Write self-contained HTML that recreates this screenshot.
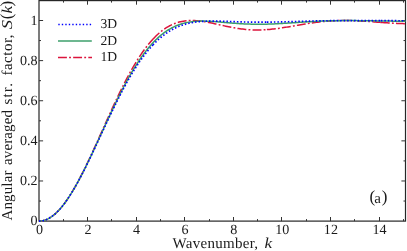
<!DOCTYPE html>
<html><head><meta charset="utf-8"><title>S(k)</title>
<style>
html,body{margin:0;padding:0;background:#fff;}
body{width:407px;height:251px;overflow:hidden;font-family:"Liberation Serif",serif;}
svg{display:block;}
svg{will-change:transform;}
svg text{font-family:"Liberation Serif",serif;fill:#1a1a1a;text-rendering:geometricPrecision;}
</style></head><body>
<svg width="407" height="251" viewBox="0 0 407 251">
<rect x="0" y="0" width="407" height="251" fill="#ffffff"/>
<rect x="39.0" y="0.6" width="366.50" height="220.5" stroke="#262626" stroke-width="1.2" fill="none"/>
<g stroke="#333" stroke-width="1" fill="none">
<line x1="63.50" y1="221.1" x2="63.50" y2="219.1"/>
<line x1="63.50" y1="0.6" x2="63.50" y2="2.6"/>
<line x1="87.50" y1="221.1" x2="87.50" y2="217.0"/>
<line x1="87.50" y1="0.6" x2="87.50" y2="4.699999999999999"/>
<line x1="111.50" y1="221.1" x2="111.50" y2="219.1"/>
<line x1="111.50" y1="0.6" x2="111.50" y2="2.6"/>
<line x1="136.50" y1="221.1" x2="136.50" y2="217.0"/>
<line x1="136.50" y1="0.6" x2="136.50" y2="4.699999999999999"/>
<line x1="160.50" y1="221.1" x2="160.50" y2="219.1"/>
<line x1="160.50" y1="0.6" x2="160.50" y2="2.6"/>
<line x1="184.50" y1="221.1" x2="184.50" y2="217.0"/>
<line x1="184.50" y1="0.6" x2="184.50" y2="4.699999999999999"/>
<line x1="209.50" y1="221.1" x2="209.50" y2="219.1"/>
<line x1="209.50" y1="0.6" x2="209.50" y2="2.6"/>
<line x1="233.50" y1="221.1" x2="233.50" y2="217.0"/>
<line x1="233.50" y1="0.6" x2="233.50" y2="4.699999999999999"/>
<line x1="257.50" y1="221.1" x2="257.50" y2="219.1"/>
<line x1="257.50" y1="0.6" x2="257.50" y2="2.6"/>
<line x1="281.50" y1="221.1" x2="281.50" y2="217.0"/>
<line x1="281.50" y1="0.6" x2="281.50" y2="4.699999999999999"/>
<line x1="306.50" y1="221.1" x2="306.50" y2="219.1"/>
<line x1="306.50" y1="0.6" x2="306.50" y2="2.6"/>
<line x1="330.50" y1="221.1" x2="330.50" y2="217.0"/>
<line x1="330.50" y1="0.6" x2="330.50" y2="4.699999999999999"/>
<line x1="354.50" y1="221.1" x2="354.50" y2="219.1"/>
<line x1="354.50" y1="0.6" x2="354.50" y2="2.6"/>
<line x1="379.50" y1="221.1" x2="379.50" y2="217.0"/>
<line x1="379.50" y1="0.6" x2="379.50" y2="4.699999999999999"/>
<line x1="403.50" y1="221.1" x2="403.50" y2="219.1"/>
<line x1="403.50" y1="0.6" x2="403.50" y2="2.6"/>
<line x1="39.0" y1="201.04" x2="41.0" y2="201.04"/>
<line x1="405.5" y1="201.04" x2="403.5" y2="201.04"/>
<line x1="39.0" y1="180.98" x2="43.1" y2="180.98"/>
<line x1="405.5" y1="180.98" x2="401.4" y2="180.98"/>
<line x1="39.0" y1="160.92" x2="41.0" y2="160.92"/>
<line x1="405.5" y1="160.92" x2="403.5" y2="160.92"/>
<line x1="39.0" y1="140.86" x2="43.1" y2="140.86"/>
<line x1="405.5" y1="140.86" x2="401.4" y2="140.86"/>
<line x1="39.0" y1="120.80" x2="41.0" y2="120.80"/>
<line x1="405.5" y1="120.80" x2="403.5" y2="120.80"/>
<line x1="39.0" y1="100.74" x2="43.1" y2="100.74"/>
<line x1="405.5" y1="100.74" x2="401.4" y2="100.74"/>
<line x1="39.0" y1="80.68" x2="41.0" y2="80.68"/>
<line x1="405.5" y1="80.68" x2="403.5" y2="80.68"/>
<line x1="39.0" y1="60.62" x2="43.1" y2="60.62"/>
<line x1="405.5" y1="60.62" x2="401.4" y2="60.62"/>
<line x1="39.0" y1="40.56" x2="41.0" y2="40.56"/>
<line x1="405.5" y1="40.56" x2="403.5" y2="40.56"/>
<line x1="39.0" y1="20.50" x2="43.1" y2="20.50"/>
<line x1="405.5" y1="20.50" x2="401.4" y2="20.50"/>
</g>
<g fill="none" stroke-linejoin="round">
<path d="M39.00,221.10 L40.42,221.04 L41.83,220.87 L43.25,220.59 L44.66,220.19 L46.08,219.69 L47.49,219.07 L48.91,218.34 L50.32,217.50 L51.74,216.55 L53.15,215.49 L54.57,214.33 L55.98,213.06 L57.40,211.69 L58.81,210.22 L60.23,208.66 L61.64,206.99 L63.06,205.23 L64.47,203.38 L65.89,201.44 L67.30,199.41 L68.72,197.30 L70.13,195.10 L71.55,192.83 L72.96,190.48 L74.38,188.06 L75.79,185.56 L77.21,183.01 L78.62,180.38 L80.04,177.70 L81.45,174.96 L82.87,172.17 L84.28,169.33 L85.70,166.45 L87.11,163.52 L88.53,160.55 L89.94,157.55 L91.36,154.51 L92.77,151.45 L94.19,148.36 L95.60,145.26 L97.02,142.13 L98.43,138.99 L99.85,135.85 L101.26,132.69 L102.68,129.54 L104.09,126.38 L105.51,123.23 L106.92,120.09 L108.34,116.96 L109.75,113.84 L111.17,110.74 L112.58,107.66 L114.00,104.61 L115.41,101.58 L116.83,98.58 L118.24,95.62 L119.66,92.69 L121.07,89.80 L122.49,86.95 L123.90,84.14 L125.32,81.38 L126.73,78.67 L128.15,76.00 L129.56,73.39 L130.98,70.84 L132.39,68.34 L133.81,65.89 L135.22,63.51 L136.64,61.19 L138.05,58.92 L139.47,56.73 L140.88,54.59 L142.30,52.52 L143.71,50.52 L145.13,48.59 L146.54,46.72 L147.96,44.92 L149.37,43.19 L150.79,41.52 L152.20,39.93 L152.95,39.12" stroke="#dc143c" stroke-width="1.5" stroke-dasharray="8.9 2.2 1.85 2.2"/>
<path d="M152.95,39.12 L153.62,38.40 L155.03,36.94 L156.45,35.56 L157.86,34.23 L159.28,32.98 L160.69,31.80 L162.11,30.68 L163.53,29.62 L164.94,28.63 L166.36,27.71 L167.77,26.85 L169.19,26.04 L170.60,25.31 L172.02,24.63 L173.43,24.00 L174.85,23.44 L176.26,22.93 L177.68,22.47 L179.09,22.07 L180.51,21.72 L181.92,21.41 L183.34,21.15 L184.75,20.94 L186.17,20.77 L187.58,20.65 L189.00,20.56 L190.41,20.51 L191.83,20.50 L193.24,20.52 L194.66,20.58 L196.07,20.66 L197.49,20.77 L198.90,20.91 L200.32,21.08 L201.73,21.26 L203.15,21.47 L204.56,21.70 L205.98,21.94 L207.39,22.20 L208.81,22.47 L210.22,22.75 L211.64,23.05 L213.05,23.35 L214.47,23.66 L215.88,23.97 L217.30,24.29 L218.71,24.61 L220.13,24.92 L221.54,25.24 L222.96,25.56 L224.37,25.87 L225.79,26.18 L227.20,26.48 L228.62,26.77 L230.03,27.06 L231.45,27.33 L232.86,27.60 L234.28,27.85 L235.69,28.09 L237.11,28.33 L238.52,28.54 L239.94,28.75 L241.35,28.93 L242.77,29.11 L244.18,29.27 L245.60,29.41 L247.01,29.54 L248.43,29.65 L249.84,29.74 L251.26,29.82 L252.67,29.88 L254.09,29.92 L255.50,29.95 L256.92,29.97 L258.33,29.96 L259.75,29.94 L261.16,29.91 L262.58,29.86 L263.99,29.79 L265.41,29.71 L266.82,29.62 L266.90,29.61" stroke="#dc143c" stroke-width="1.5" stroke-dasharray="8.9 2.2 1.85 2.2"/>
<path d="M266.90,29.61 L268.24,29.51 L269.65,29.39 L271.07,29.25 L272.48,29.11 L273.90,28.95 L275.31,28.78 L276.73,28.60 L278.14,28.42 L279.56,28.22 L280.97,28.02 L282.39,27.80 L283.81,27.59 L285.22,27.36 L286.64,27.13 L288.05,26.90 L289.47,26.66 L290.88,26.42 L292.30,26.17 L293.71,25.93 L295.13,25.68 L296.54,25.43 L297.96,25.19 L299.37,24.94 L300.79,24.70 L302.20,24.46 L303.62,24.22 L305.03,23.99 L306.45,23.76 L307.86,23.54 L309.28,23.32 L310.69,23.10 L312.11,22.89 L313.52,22.69 L314.94,22.50 L316.35,22.31 L317.77,22.14 L319.18,21.97 L320.60,21.81 L322.01,21.65 L323.43,21.51 L324.84,21.38 L326.26,21.25 L327.67,21.14 L329.09,21.03 L330.50,20.93 L331.92,20.85 L333.33,20.77 L334.75,20.70 L336.16,20.65 L337.58,20.60 L338.99,20.56 L340.41,20.53 L341.82,20.51 L343.24,20.50 L344.65,20.50 L346.07,20.51 L347.48,20.52 L348.90,20.55 L350.31,20.58 L351.73,20.61 L353.14,20.66 L354.56,20.71 L355.97,20.77 L357.39,20.83 L358.80,20.90 L360.22,20.98 L361.63,21.06 L363.05,21.14 L364.46,21.23 L365.88,21.32 L367.29,21.42 L368.71,21.51 L370.12,21.61 L371.54,21.72 L372.95,21.82 L374.37,21.92 L375.78,22.03 L377.20,22.13 L378.61,22.23 L380.03,22.34 L380.85,22.40" stroke="#dc143c" stroke-width="1.5" stroke-dasharray="8.9 2.2 1.85 2.2"/>
<path d="M380.85,22.40 L381.44,22.44 L382.86,22.54 L384.27,22.64 L385.69,22.74 L387.10,22.83 L388.52,22.92 L389.93,23.01 L391.35,23.09 L392.76,23.17 L394.18,23.25 L395.59,23.32 L397.01,23.39 L398.42,23.46 L399.84,23.51 L401.25,23.57 L402.67,23.62 L404.08,23.66 L405.50,23.70" stroke="#dc143c" stroke-width="1.5" stroke-dasharray="8.9 2.2 1.85 2.2"/>
<path d="M39.00,221.10 L40.42,221.04 L41.83,220.87 L43.25,220.59 L44.66,220.19 L46.08,219.69 L47.49,219.07 L48.91,218.34 L50.32,217.50 L51.74,216.55 L53.15,215.49 L54.57,214.33 L55.98,213.07 L57.40,211.70 L58.81,210.24 L60.23,208.67 L61.64,207.02 L63.06,205.26 L64.47,203.42 L65.89,201.49 L67.30,199.47 L68.72,197.37 L70.13,195.19 L71.55,192.93 L72.96,190.60 L74.38,188.19 L75.79,185.72 L77.21,183.19 L78.62,180.59 L80.04,177.94 L81.45,175.23 L82.87,172.48 L84.28,169.67 L85.70,166.83 L87.11,163.94 L88.53,161.02 L89.94,158.06 L91.36,155.08 L92.77,152.07 L94.19,149.04 L95.60,145.99 L97.02,142.93 L98.43,139.86 L99.85,136.78 L101.26,133.69 L102.68,130.61 L104.09,127.53 L105.51,124.46 L106.92,121.40 L108.34,118.35 L109.75,115.31 L111.17,112.30 L112.58,109.31 L114.00,106.34 L115.41,103.41 L116.83,100.50 L118.24,97.63 L119.66,94.79 L121.07,91.99 L122.49,89.23 L123.90,86.52 L125.32,83.85 L126.73,81.22 L128.15,78.65 L129.56,76.13 L130.98,73.65 L132.39,71.24 L133.81,68.87 L135.22,66.57 L136.64,64.32 L138.05,62.13 L139.47,60.00 L140.88,57.92 L142.30,55.91 L143.71,53.97 L145.13,52.08 L146.54,50.25 L147.96,48.49 L149.37,46.79 L150.79,45.15 L152.20,43.58 L152.95,42.77 L153.62,42.06 L155.03,40.61 L156.45,39.22 L157.86,37.89 L159.28,36.63 L160.69,35.42 L162.11,34.27 L163.53,33.17 L164.94,32.14 L166.36,31.16 L167.77,30.24 L169.19,29.37 L170.60,28.55 L172.02,27.78 L173.43,27.07 L174.85,26.40 L176.26,25.78 L177.68,25.21 L179.09,24.68 L180.51,24.20 L181.92,23.76 L183.34,23.36 L184.75,22.99 L186.17,22.67 L187.58,22.38 L189.00,22.12 L190.41,21.89 L191.83,21.70 L193.24,21.54 L194.66,21.40 L196.07,21.29 L197.49,21.21 L198.90,21.14 L200.32,21.10 L201.73,21.08 L203.15,21.08 L204.56,21.10 L205.98,21.13 L207.39,21.17 L208.81,21.23 L210.22,21.30 L211.64,21.38 L213.05,21.47 L214.47,21.57 L215.88,21.68 L217.30,21.79 L218.71,21.91 L220.13,22.03 L221.54,22.15 L222.96,22.27 L224.37,22.40 L225.79,22.52 L227.20,22.65 L228.62,22.77 L230.03,22.90 L231.45,23.01 L232.86,23.13 L234.28,23.24 L235.69,23.35 L237.11,23.45 L238.52,23.55 L239.94,23.64 L241.35,23.73 L242.77,23.81 L244.18,23.89 L245.60,23.95 L247.01,24.01 L248.43,24.07 L249.84,24.11 L251.26,24.15 L252.67,24.19 L254.09,24.21 L255.50,24.23 L256.92,24.24 L258.33,24.25 L259.75,24.24 L261.16,24.24 L262.58,24.22 L263.99,24.20 L265.41,24.17 L266.82,24.14 L266.90,24.13 L268.24,24.10 L269.65,24.05 L271.07,24.00 L272.48,23.95 L273.90,23.89 L275.31,23.82 L276.73,23.75 L278.14,23.68 L279.56,23.60 L280.97,23.53 L282.39,23.44 L283.81,23.36 L285.22,23.27 L286.64,23.18 L288.05,23.09 L289.47,23.00 L290.88,22.91 L292.30,22.82 L293.71,22.72 L295.13,22.63 L296.54,22.54 L297.96,22.44 L299.37,22.35 L300.79,22.26 L302.20,22.17 L303.62,22.08 L305.03,21.99 L306.45,21.90 L307.86,21.82 L309.28,21.73 L310.69,21.65 L312.11,21.58 L313.52,21.50 L314.94,21.43 L316.35,21.36 L317.77,21.29 L319.18,21.23 L320.60,21.16 L322.01,21.11 L323.43,21.05 L324.84,21.00 L326.26,20.95 L327.67,20.90 L329.09,20.86 L330.50,20.82 L331.92,20.79 L333.33,20.75 L334.75,20.72 L336.16,20.70 L337.58,20.67 L338.99,20.65 L340.41,20.64 L341.82,20.62 L343.24,20.61 L344.65,20.60 L346.07,20.60 L347.48,20.59 L348.90,20.59 L350.31,20.59 L351.73,20.60 L353.14,20.60 L354.56,20.61 L355.97,20.62 L357.39,20.63 L358.80,20.64 L360.22,20.66 L361.63,20.67 L363.05,20.69 L364.46,20.71 L365.88,20.73 L367.29,20.75 L368.71,20.77 L370.12,20.79 L371.54,20.81 L372.95,20.83 L374.37,20.86 L375.78,20.88 L377.20,20.90 L378.61,20.93 L380.03,20.95 L380.85,20.96 L381.44,20.97 L382.86,20.99 L384.27,21.02 L385.69,21.04 L387.10,21.06 L388.52,21.08 L389.93,21.10 L391.35,21.12 L392.76,21.14 L394.18,21.15 L395.59,21.17 L397.01,21.19 L398.42,21.20 L399.84,21.21 L401.25,21.23 L402.67,21.24 L404.08,21.25 L405.50,21.25" stroke="#3c9f6b" stroke-width="1.5"/>
<path d="M39.00,221.10 L40.42,221.04 L41.83,220.87 L43.25,220.59 L44.66,220.19 L46.08,219.69 L47.49,219.07 L48.91,218.34 L50.32,217.50 L51.74,216.55 L53.15,215.50 L54.57,214.34 L55.98,213.08 L57.40,211.71 L58.81,210.25 L60.23,208.69 L61.64,207.03 L63.06,205.28 L64.47,203.44 L65.89,201.52 L67.30,199.50 L68.72,197.41 L70.13,195.24 L71.55,192.99 L72.96,190.67 L74.38,188.28 L75.79,185.82 L77.21,183.30 L78.62,180.72 L80.04,178.08 L81.45,175.39 L82.87,172.66 L84.28,169.88 L85.70,167.05 L87.11,164.19 L88.53,161.29 L89.94,158.37 L91.36,155.41 L92.77,152.44 L94.19,149.44 L95.60,146.43 L97.02,143.40 L98.43,140.37 L99.85,137.33 L101.26,134.29 L102.68,131.25 L104.09,128.21 L105.51,125.18 L106.92,122.17 L108.34,119.17 L109.75,116.18 L111.17,113.22 L112.58,110.28 L114.00,107.36 L115.41,104.48 L116.83,101.62 L118.24,98.80 L119.66,96.02 L121.07,93.27 L122.49,90.57 L123.90,87.90 L125.32,85.29 L126.73,82.71 L128.15,80.19 L129.56,77.72 L130.98,75.29 L132.39,72.92 L133.81,70.61 L135.22,68.35 L136.64,66.14 L138.05,63.99 L139.47,61.90 L140.88,59.86 L142.30,57.89 L143.71,55.97 L145.13,54.11 L146.54,52.31 L147.96,50.57 L149.37,48.89 L150.79,47.27 L152.20,45.71 L152.95,44.91" stroke="#0000ff" stroke-width="1.65" stroke-dasharray="1.5 1.99"/>
<path d="M152.95,44.91 L153.62,44.20 L155.03,42.76 L156.45,41.37 L157.86,40.04 L159.28,38.77 L160.69,37.55 L162.11,36.39 L163.53,35.28 L164.94,34.22 L166.36,33.22 L167.77,32.27 L169.19,31.37 L170.60,30.52 L172.02,29.71 L173.43,28.95 L174.85,28.24 L176.26,27.57 L177.68,26.94 L179.09,26.36 L180.51,25.81 L181.92,25.30 L183.34,24.83 L184.75,24.40 L186.17,24.00 L187.58,23.63 L189.00,23.30 L190.41,22.99 L191.83,22.71 L193.24,22.46 L194.66,22.24 L196.07,22.04 L197.49,21.86 L198.90,21.71 L200.32,21.57 L201.73,21.46 L203.15,21.36 L204.56,21.28 L205.98,21.22 L207.39,21.17 L208.81,21.13 L210.22,21.10 L211.64,21.09 L213.05,21.09 L214.47,21.09 L215.88,21.10 L217.30,21.12 L218.71,21.15 L220.13,21.18 L221.54,21.22 L222.96,21.26 L224.37,21.31 L225.79,21.35 L227.20,21.40 L228.62,21.45 L230.03,21.51 L231.45,21.56 L232.86,21.61 L234.28,21.66 L235.69,21.71 L237.11,21.76 L238.52,21.81 L239.94,21.85 L241.35,21.90 L242.77,21.94 L244.18,21.98 L245.60,22.01 L247.01,22.04 L248.43,22.07 L249.84,22.10 L251.26,22.12 L252.67,22.14 L254.09,22.16 L255.50,22.17 L256.92,22.18 L258.33,22.19 L259.75,22.19 L261.16,22.19 L262.58,22.18 L263.99,22.18 L265.41,22.17 L266.82,22.15 L266.90,22.15" stroke="#0000ff" stroke-width="1.65" stroke-dasharray="1.5 1.99"/>
<path d="M266.90,22.15 L268.24,22.14 L269.65,22.12 L271.07,22.10 L272.48,22.07 L273.90,22.05 L275.31,22.02 L276.73,21.99 L278.14,21.96 L279.56,21.93 L280.97,21.89 L282.39,21.86 L283.81,21.82 L285.22,21.78 L286.64,21.74 L288.05,21.70 L289.47,21.66 L290.88,21.62 L292.30,21.58 L293.71,21.54 L295.13,21.49 L296.54,21.45 L297.96,21.41 L299.37,21.37 L300.79,21.33 L302.20,21.29 L303.62,21.25 L305.03,21.21 L306.45,21.17 L307.86,21.13 L309.28,21.10 L310.69,21.06 L312.11,21.03 L313.52,20.99 L314.94,20.96 L316.35,20.93 L317.77,20.90 L319.18,20.87 L320.60,20.84 L322.01,20.82 L323.43,20.79 L324.84,20.77 L326.26,20.75 L327.67,20.73 L329.09,20.71 L330.50,20.69 L331.92,20.67 L333.33,20.66 L334.75,20.64 L336.16,20.63 L337.58,20.62 L338.99,20.61 L340.41,20.60 L341.82,20.59 L343.24,20.58 L344.65,20.58 L346.07,20.57 L347.48,20.57 L348.90,20.56 L350.31,20.56 L351.73,20.56 L353.14,20.56 L354.56,20.56 L355.97,20.56 L357.39,20.56 L358.80,20.56 L360.22,20.57 L361.63,20.57 L363.05,20.57 L364.46,20.58 L365.88,20.58 L367.29,20.58 L368.71,20.59 L370.12,20.59 L371.54,20.60 L372.95,20.60 L374.37,20.61 L375.78,20.62 L377.20,20.62 L378.61,20.63 L380.03,20.63 L380.85,20.64" stroke="#0000ff" stroke-width="1.65" stroke-dasharray="1.5 1.99"/>
<path d="M380.85,20.64 L381.44,20.64 L382.86,20.64 L384.27,20.65 L385.69,20.66 L387.10,20.66 L388.52,20.67 L389.93,20.67 L391.35,20.68 L392.76,20.68 L394.18,20.68 L395.59,20.69 L397.01,20.69 L398.42,20.70 L399.84,20.70 L401.25,20.70 L402.67,20.71 L404.08,20.71 L405.50,20.71" stroke="#0000ff" stroke-width="1.65" stroke-dasharray="1.5 1.99"/>
</g>
<g>
<text x="39.40" y="233.6" text-anchor="middle" font-size="14.1">0</text>
<text x="87.98" y="233.6" text-anchor="middle" font-size="14.1">2</text>
<text x="136.56" y="233.6" text-anchor="middle" font-size="14.1">4</text>
<text x="185.14" y="233.6" text-anchor="middle" font-size="14.1">6</text>
<text x="233.72" y="233.6" text-anchor="middle" font-size="14.1">8</text>
<text x="282.30" y="233.6" text-anchor="middle" font-size="14.1">10</text>
<text x="330.88" y="233.6" text-anchor="middle" font-size="14.1">12</text>
<text x="379.46" y="233.6" text-anchor="middle" font-size="14.1">14</text>
<text x="37.6" y="225.10" text-anchor="end" font-size="14.1">0</text>
<text x="37.6" y="184.98" text-anchor="end" font-size="14.1">0.2</text>
<text x="37.6" y="144.86" text-anchor="end" font-size="14.1">0.4</text>
<text x="37.6" y="104.74" text-anchor="end" font-size="14.1">0.6</text>
<text x="37.6" y="64.62" text-anchor="end" font-size="14.1">0.8</text>
<text x="37.6" y="24.50" text-anchor="end" font-size="14.1">1</text>
</g>
<!-- legend -->
<g fill="none">
<line x1="58.3" y1="24.5" x2="91.4" y2="24.5" stroke="#0000ff" stroke-width="1.4" stroke-dasharray="1.4 2.09"/>
<line x1="58" y1="40.9" x2="91.8" y2="40.9" stroke="#3c9f6b" stroke-width="1.5"/>
<line x1="58" y1="57.5" x2="92" y2="57.5" stroke="#dc143c" stroke-width="1.5" stroke-dasharray="8.9 2.2 1.85 2.2"/>
</g>
<text x="100.5" y="28.3" font-size="13.6">3D</text>
<text x="100.5" y="44.8" font-size="13.6">2D</text>
<text x="100.5" y="61.3" font-size="13.6">1D</text>
<text x="369.4" y="202.4" font-size="17">(</text>
<text x="374.3" y="202.5" font-size="15.0">a</text>
<text x="381.8" y="202.4" font-size="17">)</text>
<text x="172.5" y="247.7" font-size="15.0" textLength="85.6" lengthAdjust="spacing">Wavenumber,</text>
<text x="264.6" y="247.6" font-size="15.0" font-style="italic" textLength="7.6" lengthAdjust="spacingAndGlyphs">k</text>
<g transform="translate(12.1,0) rotate(-90)" font-size="15.0">
<text x="-220.6" y="0" textLength="50.1" lengthAdjust="spacing">Angular</text>
<text x="-164.9" y="0" textLength="54.9" lengthAdjust="spacing">averaged</text>
<text x="-104.5" y="0" textLength="21.4" lengthAdjust="spacing">str.</text>
<text x="-75.6" y="0" textLength="41.2" lengthAdjust="spacing">factor,</text>
<text x="-29.2" y="0" font-style="italic" textLength="9.3" lengthAdjust="spacingAndGlyphs">S</text>
<text x="-19.2" y="0.3" font-size="17">(</text>
<text x="-13.4" y="0" font-style="italic" textLength="7.6" lengthAdjust="spacingAndGlyphs">k</text>
<text x="-6.6" y="0.3" font-size="17">)</text>
</g>
</svg>
</body></html>
